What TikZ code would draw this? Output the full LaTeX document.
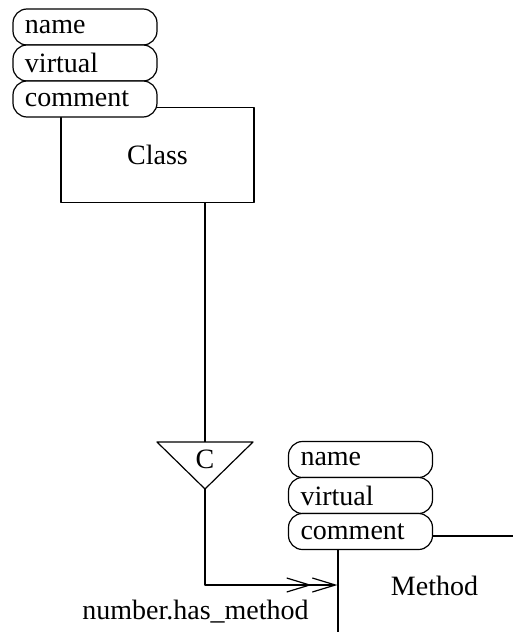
\documentclass[tikz,border=0pt]{standalone}
\usepackage{fontspec}
\setmainfont{Liberation Serif}
\usetikzlibrary{positioning,arrows.meta}

\begin{document}
\begin{tikzpicture}[x=0.5pt, y=-0.5pt, line join=round, line width=0.6pt,
		font=\fontsize{14}{16}\selectfont,
		attr/.style={draw, fill=white, rounded corners=7pt, outer sep=0pt, inner xsep=6pt, inner ysep=0pt, text width=60pt, minimum height=18pt, align=left},
		entity/.style={draw, minimum width=96.5pt, minimum height=47.5pt},
		dblarrow/.style={-{Straight Barb[length=11.5pt,width=7pt] Straight Barb[length=11.5pt,width=7pt]}}]
			\useasboundingbox (0,0) rectangle (513,632);
			\clip (0,0) rectangle (513,632);
			\node[entity] (class) at (157.5,155) {Class};
			\node[entity, minimum height=50pt] (method) at (434.5,586) {Method};
			\node[attr] (cname) at (85,27) {name};
			\node[attr, below=0pt of cname] (cvirtual) {virtual};
			\node[attr, below=0pt of cvirtual] (ccomment) {comment};
			\node[attr] (mname) at (360.5,459.5) {name};
			\node[attr, below=0pt of mname] (mvirtual) {virtual};
			\node[attr, below=0pt of mvirtual] (mcomment) {comment};
			\coordinate (tl) at (157,442);
			\coordinate (tr) at (253,442);
			\coordinate (tip) at (205,489);
			\draw (tl) -- (tr) -- (tip) -- cycle;
			\node (cat) at (205,459) {C};
			\draw (class.south -| tip) -- (tip |- tl);
			\draw[dblarrow] (tip) |- (method.west |- 0,585);
			\node (hasm) at (195.5,612) {number.has\_method};
		\end{tikzpicture}
\end{document}
